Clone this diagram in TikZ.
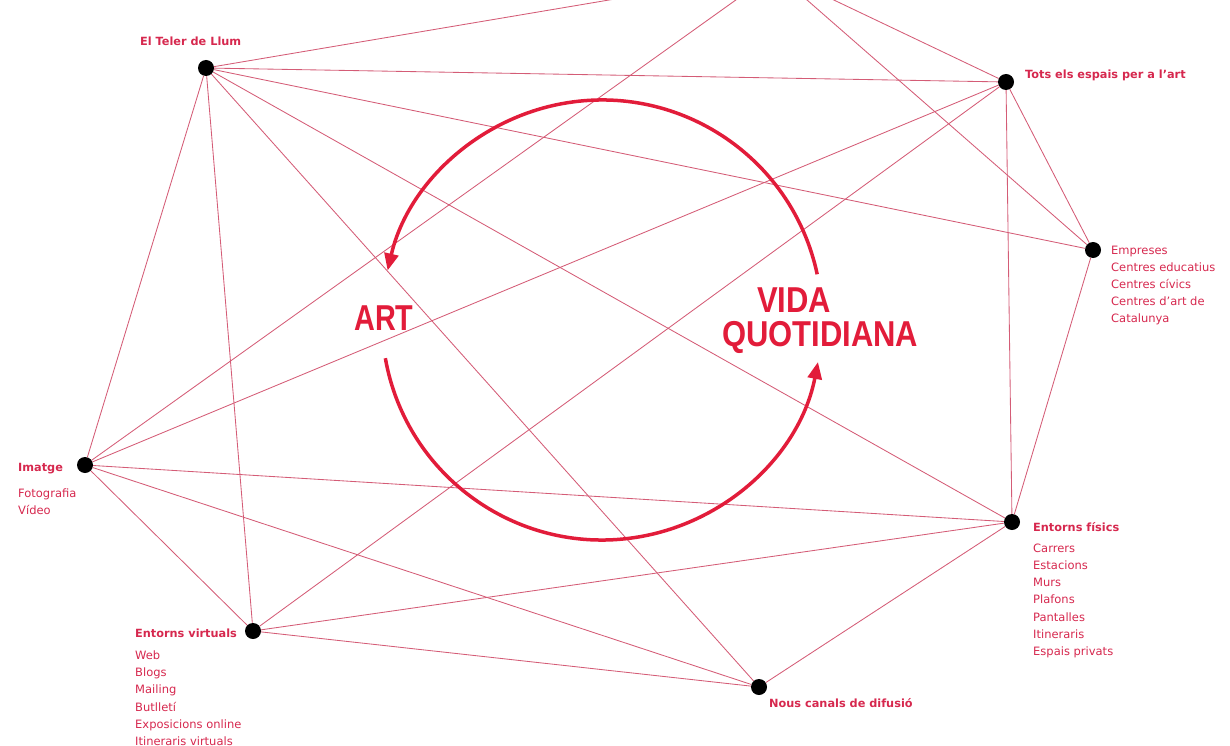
\documentclass[tikz,border=0pt]{standalone}
\usepackage{fontspec}
\setmainfont{DejaVu Sans}
\newfontfamily\bigfont{Liberation Sans}
\usetikzlibrary{arrows.meta}
\definecolor{edgered}{RGB}{212,92,118}
\definecolor{labred}{RGB}{214,40,78}
\definecolor{artred}{RGB}{226,28,58}
\begin{document}
\begin{tikzpicture}[x=1pt,y=-1pt,
  edge/.style={draw=edgered,line width=0.85pt},
  dot/.style={circle,fill=black,minimum size=16pt,inner sep=0pt},
  head/.style={anchor=west,inner sep=0pt,text=labred,font=\fontsize{11.3}{13}\selectfont\bfseries},
  items/.style={anchor=north west,inner sep=0pt,text=labred,align=left,font=\fontsize{11.5}{17.2}\selectfont},
  big/.style={text=artred,inner sep=0pt,font=\bigfont\bfseries\fontsize{36}{38}\selectfont},
  cyc/.style={draw=artred,line width=3.5pt,-{Triangle[length=17pt,width=14pt]}}]
\useasboundingbox (0,0) rectangle (1230,746);
\clip (0,0) rectangle (1230,746);
% nodes
\node[dot] (A) at (206,68) {};
\node[dot] (B) at (1006,82) {};
\node[dot] (C) at (1093,250) {};
\node[dot] (D) at (1012,522) {};
\node[dot] (E) at (759,687) {};
\node[dot] (F) at (253,631) {};
\node[dot] (G) at (85,465) {};
\coordinate (H) at (775,-28);
% connectors
\draw[edge] (A) -- (H);
\draw[edge] (A) -- (B);
\draw[edge] (A) -- (C);
\draw[edge] (A) -- (D);
\draw[edge] (A) -- (E);
\draw[edge] (A) -- (F);
\draw[edge] (A) -- (G);
\draw[edge] (B) -- (H);
\draw[edge] (B) -- (C);
\draw[edge] (B) -- (D);
\draw[edge] (B) -- (G);
\draw[edge] (B) -- (F);
\draw[edge] (C) -- (H);
\draw[edge] (C) -- (D);
\draw[edge] (D) -- (G);
\draw[edge] (D) -- (F);
\draw[edge] (D) -- (E);
\draw[edge] (E) -- (G);
\draw[edge] (E) -- (F);
\draw[edge] (F) -- (G);
\draw[edge] (G) -- (H);
% cycle arcs
\coordinate (ctr) at (602,320);
\draw[cyc] (ctr) ++(-12:220) arc[start angle=-12, end angle=-167, radius=220];
\draw[cyc] (ctr) ++(170:220) arc[start angle=170, end angle=11, radius=220];
% big labels
\node[big,xscale=0.8] (art) at (384,318) {ART};
\node[big,xscale=0.86,anchor=west] (vida) at (757,300) {VIDA};
\node[big,xscale=0.86,anchor=west] (quot) at (722,337) {QUOTIDIANA};
% small labels
\node[head] (tA) at (140,41) {El Teler de Llum};
\node[head] (tB) at (1025,75) {Tots els espais per a l'art};
\node[items] (tC) at (1111,245.6) {Empreses\\Centres educatius\\Centres cívics\\Centres d'art de\\Catalunya};
\node[head] (tG) at (18,469) {Imatge};
\node[items] (iG) at (18,488.6) {Fotografia\\Vídeo};
\node[head] (tD) at (1033,527) {Entorns físics};
\node[items] (iD) at (1033,543.6) {Carrers\\Estacions\\Murs\\Plafons\\Pantalles\\Itineraris\\Espais privats};
\node[head] (tF) at (135,633) {Entorns virtuals};
\node[items] (iF) at (135,650.6) {Web\\Blogs\\Mailing\\Butlletí\\Exposicions online\\Itineraris virtuals};
\node[head] (tE) at (769,703) {Nous canals de difusió};
\end{tikzpicture}
\end{document}
